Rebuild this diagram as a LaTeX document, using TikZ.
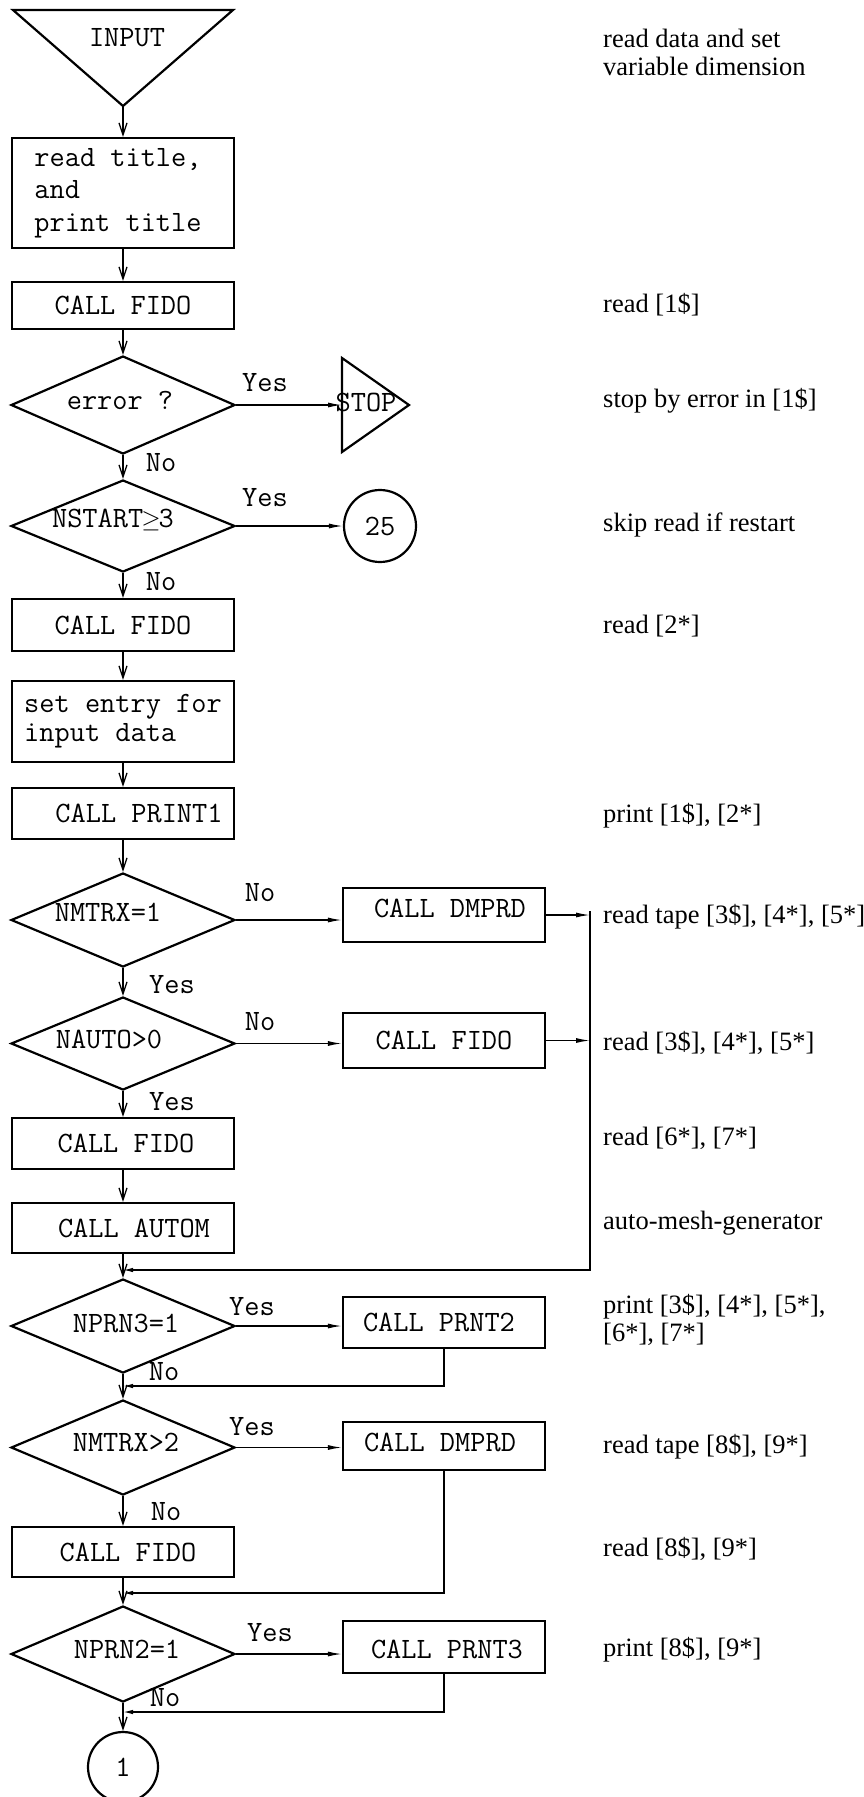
\documentclass[tikz,border=0pt]{standalone}
\usepackage{fontspec}
\newfontfamily\annfont{Liberation Serif}
\usetikzlibrary{shapes.geometric,arrows.meta}
\newcommand\shifted[3]{\raisebox{#2}[\height][\depth]{\hspace*{#1}#3\hspace*{-#1}}}
\begin{document}
\begin{tikzpicture}[x=1pt,y=-1pt,
  every node/.style={font=\fontsize{29.5}{31}\selectfont\ttfamily},
  box/.style={draw,line width=2.2pt,inner sep=0pt,minimum width=222,minimum height=50},
  rbox/.style={draw,line width=2.2pt,inner sep=0pt,minimum width=202},
  dec/.style={draw,diamond,aspect=2.3,line width=2.2pt,inner sep=0pt,minimum width=224},
  conn/.style={line width=1.3pt},
  varr/.style={conn,-{Straight Barb[length=12pt,width=8pt]}},
  harr/.style={conn,-{Latex[length=14pt,width=5pt]}},
  marr/.style={conn,-{Latex[length=10pt,width=4.5pt]}},
  lbl/.style={inner sep=0pt},
  ann/.style={font=\fontsize{26.5}{28}\selectfont\annfont,anchor=west,inner sep=0pt,align=left},
]
\useasboundingbox (0,0) rectangle (863,1797);
% start
\draw[line width=2.2pt] (13,10) -- (233,10) -- (123,106) -- cycle;
\node[lbl] (input) at (127,38) {INPUT};
\coordinate (inapex) at (123,106);
\node[box,minimum height=110,align=left,font=\fontsize{29.5}{32.5}\selectfont\ttfamily] (b1) at (123,193) {read title,\\and\\print title\hspace*{10pt}};
\node[box,minimum height=47] (fido1) at (123,305.5) {CALL FIDO};
\node[dec,minimum height=98] (err) at (123,405) {\shifted{-3pt}{5pt}{error ?}};
\draw[line width=2.2pt] (342,358) -- (409,405) -- (342,452) -- cycle;
\coordinate (stopin) at (342,405);
\node[lbl] (stop) at (366,402) {STOP};
\node[dec,minimum height=92] (nstart) at (123,526) {\shifted{-10pt}{6pt}{NSTART\makebox[15.5pt]{$\geq$}3}};
\node[draw,circle,line width=2.2pt,minimum size=72,inner sep=0pt] (c25) at (380,526) {25};
\node[box,minimum height=52] (fido2) at (123,625) {CALL FIDO};
\node[box,minimum height=81,align=left,font=\fontsize{29.5}{29}\selectfont\ttfamily] (setent) at (123,721.5) {set entry for\\input data};
\node[box,minimum height=51] (print1) at (123,813.5) {\shifted{16pt}{0pt}{CALL PRINT1}};
\node[dec,minimum height=94] (nmtrx1) at (123,920) {\shifted{-15pt}{8pt}{NMTRX=1}};
\node[rbox,minimum height=54] (dmprd1) at (444,915) {\shifted{6pt}{7pt}{CALL DMPRD}};
\node[dec,minimum height=93] (nauto) at (123,1043.5) {\shifted{-14pt}{4pt}{NAUTO>0}};
\node[rbox,minimum height=55] (fidor) at (444,1040.5) {CALL FIDO};
\node[box,minimum height=51] (fido3) at (123,1143.5) {\shifted{3pt}{0pt}{CALL FIDO}};
\node[box,minimum height=50] (autom) at (123,1228) {\shifted{11pt}{0pt}{CALL AUTOM}};
\node[dec,minimum height=94] (nprn3) at (123,1326) {\shifted{3pt}{3pt}{NPRN3=1}};
\node[rbox,minimum height=51] (prnt2) at (444,1322.5) {\shifted{-5pt}{0pt}{CALL PRNT2}};
\node[dec,minimum height=95] (nmtrx2) at (123,1447.5) {\shifted{3pt}{5pt}{NMTRX>2}};
\node[rbox,minimum height=48] (dmprd2) at (444,1446) {\shifted{-4pt}{4pt}{CALL DMPRD}};
\node[box,minimum height=50] (fido4) at (123,1552) {\shifted{5pt}{0pt}{CALL FIDO}};
\node[dec,minimum height=96] (nprn2) at (123,1654) {\shifted{4pt}{5pt}{NPRN2=1}};
\node[rbox,minimum height=52] (prnt3) at (444,1647) {\shifted{3pt}{-2pt}{CALL PRNT3}};
\node[draw,circle,line width=2.2pt,minimum size=70,inner sep=0pt] (c1) at (123,1767) {1};
% connectors
\draw[varr] (inapex) -- (b1.north);
\draw[varr] (b1.south) -- (fido1.north);
\draw[varr] (fido1.south) -- (err.north);
\draw[harr] (err.east) -- (stopin);
\draw[varr] (err.south) -- (nstart.north);
\draw[harr] (nstart.east) -- (c25.west);
\draw[varr] (nstart.south) -- (fido2.north);
\draw[varr] (fido2.south) -- (setent.north);
\draw[varr] (setent.south) -- (print1.north);
\draw[varr] (print1.south) -- (nmtrx1.north);
\draw[harr] (nmtrx1.east) -- (nmtrx1.east -| dmprd1.west);
\draw[varr] (nmtrx1.south) -- (nauto.north);
\draw[harr] (nauto.east) -- (nauto.east -| fidor.west);
\draw[varr] (nauto.south) -- (fido3.north);
\draw[varr] (fido3.south) -- (autom.north);
\draw[varr] (autom.south) -- (nprn3.north);
\coordinate (bustop) at (590,911);
\coordinate (bus1) at (590,915);
\coordinate (bus2) at (590,1040.5);
\coordinate (bus3) at (590,1270);
\coordinate (join1) at (123,1270);
\draw[harr] (dmprd1.east) -- (bus1);
\draw[harr] (fidor.east) -- (bus2);
\draw[marr] (bustop) -- (bus3) -- (join1);
\draw[harr] (nprn3.east) -- (nprn3.east -| prnt2.west);
\coordinate (join2) at (123,1386);
\draw[marr] (prnt2.south) |- (join2);
\draw[varr] (nprn3.south) -- (nmtrx2.north);
\draw[harr] (nmtrx2.east) -- (nmtrx2.east -| dmprd2.west);
\draw[varr] (nmtrx2.south) -- (fido4.north);
\coordinate (join3) at (123,1593);
\draw[marr] (dmprd2.south) |- (join3);
\draw[varr] (fido4.south) -- (nprn2.north);
\draw[harr] (nprn2.east) -- (nprn2.east -| prnt3.west);
\coordinate (join4) at (123,1712);
\draw[marr] (prnt3.south) |- (join4);
\draw[varr] (nprn2.south) -- (c1.north);
% branch labels
\node[lbl] (y1) at (265,383) {Yes};
\node[lbl] (n1) at (161,463) {No};
\node[lbl] (y2) at (265,498) {Yes};
\node[lbl] (n2) at (161,582) {No};
\node[lbl] (n3) at (260,893) {No};
\node[lbl] (y3) at (172,985) {Yes};
\node[lbl] (n4) at (260,1022) {No};
\node[lbl] (y4) at (172,1102) {Yes};
\node[lbl] (y5) at (252,1307) {Yes};
\node[lbl] (n5) at (164,1372) {No};
\node[lbl] (y6) at (252,1427) {Yes};
\node[lbl] (n6) at (166,1512) {No};
\node[lbl] (y7) at (270,1633) {Yes};
\node[lbl] (n7) at (165,1698) {No};
% annotations
\node[ann] (a1) at (603,52) {read data and set\\variable dimension};
\node[ann] (a2) at (603,305) {read [1\$]};
\node[ann] (a3) at (603,401) {stop by error in [1\$]};
\node[ann] (a4) at (603,525) {skip read if restart};
\node[ann] (a5) at (603,626) {read [2*]};
\node[ann] (a6) at (603,816) {print [1\$], [2*]};
\node[ann] (a7) at (603,917) {read tape [3\$], [4*], [5*]};
\node[ann] (a8) at (603,1043) {read [3\$], [4*], [5*]};
\node[ann] (a9) at (603,1138) {read [6*], [7*]};
\node[ann] (a10) at (603,1223) {auto-mesh-generator};
\node[ann] (a11) at (603,1319.5) {print [3\$], [4*], [5*],\\{}[6*], [7*]};
\node[ann] (a12) at (603,1447) {read tape [8\$], [9*]};
\node[ann] (a13) at (603,1549) {read [8\$], [9*]};
\node[ann] (a14) at (603,1650) {print [8\$], [9*]};
\end{tikzpicture}
\end{document}
